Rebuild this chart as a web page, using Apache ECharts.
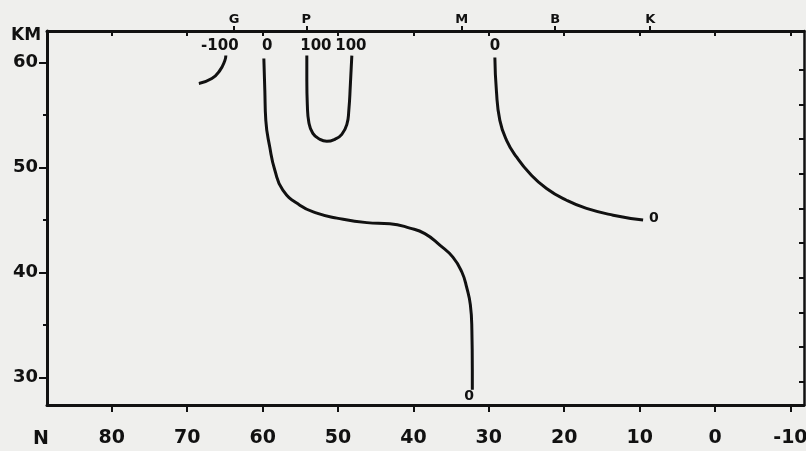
<!DOCTYPE html>
<html>
<head>
<meta charset="utf-8">
<script src="https://cdn.jsdelivr.net/npm/echarts@6/dist/echarts.min.js"></script>
<style>
html,body{margin:0;padding:0;background:#efefed;}
#c{width:806px;height:451px;}
</style>
</head>
<body>
<div id="c"></div>
<script>
// Latitude axis (reversed), altitude axis (km)
var xTickValues = [80, 70, 60, 50, 40, 30, 20, 10, 0, -10];
var yTickValues = [30, 40, 50, 60];
var yMinorTicks = [35, 45, 55];
var rightTicks = [29.6, 32.9, 36.2, 39.5, 42.8, 46.1, 49.4, 52.7, 56.0, 59.3];
var stationNames = ['G', 'P', 'M', 'B', 'K'];
var stationLats = [63.8, 54.2, 33.6, 21.2, 8.6];

// Contour lines: [latitude, km]
var contourMinus100 = [[68.46, 58.01], [66.74, 58.48], [65.68, 59.24], [65.01, 60.19], [64.88, 60.66]];
var contourZeroLeft = [[59.84, 60.38], [59.71, 57.34], [59.58, 54.49], [59.05, 51.93], [58.38, 49.75],
  [57.32, 47.85], [55.07, 46.42], [52.81, 45.66], [50.16, 45.19], [46.18, 44.76], [43.13, 44.66],
  [40.48, 44.24], [38.49, 43.71], [36.50, 42.62], [34.77, 41.48], [33.58, 40.06], [32.92, 38.54],
  [32.45, 36.93], [32.25, 34.55], [32.19, 30.75], [32.19, 28.85]];
var contour100 = [[54.14, 60.66], [54.14, 58.29], [54.07, 55.92], [53.87, 54.30], [53.34, 53.26],
  [52.41, 52.69], [51.49, 52.50], [50.42, 52.69], [49.50, 53.16], [48.83, 54.11], [48.57, 55.44],
  [48.37, 57.82], [48.17, 60.66]];
var contourZeroRight = [[29.2, 60.47], [29.0, 57.34], [28.54, 54.49], [27.65, 52.59], [26.33, 51.01],
  [24.56, 49.43], [22.35, 48.01], [19.70, 46.89], [17.05, 46.11], [13.51, 45.47], [9.54, 45.0]];
// Contour labels: [latitude, km, text]
var contourLabels = [[65.68, 61.6, '-100'], [59.4, 61.6, '0'], [52.94, 61.6, '100'], [48.3, 61.6, '100'],
  [29.2, 61.6, '0']];
var endLabels = [[32.6, 28.2, '0'], [8.1, 45.2, '0']];

var XMIN = -11.8, XMAX = 88.6, YMIN = 27.4, YMAX = 63;
var INK = '#111111';
var FONT = 'DejaVu Sans';

function near(arr, v) {
  for (var i = 0; i < arr.length; i++) if (Math.abs(arr[i] - v) < 1e-6) return i;
  return -1;
}

function lineSeries(data) {
  return {
    type: 'line', data: data, smooth: 0.5, symbol: 'none', silent: true,
    lineStyle: { color: INK, width: 3 }, xAxisIndex: 0, yAxisIndex: 0
  };
}

function labelSeries(data, size) {
  return {
    type: 'scatter', data: data, symbolSize: 1, silent: true,
    itemStyle: { color: 'rgba(0,0,0,0)' },
    label: {
      show: true, position: 'inside', color: INK, textBorderWidth: 0, opacity: 1,
      fontFamily: FONT, fontWeight: 'bold', fontSize: size,
      formatter: function (p) { return p.value[2]; }
    }
  };
}

var chart = echarts.init(document.getElementById('c'), null, { renderer: 'canvas' });
chart.setOption({
  backgroundColor: '#efefed',
  animation: false,
  grid: { left: 47, right: 2, top: 31, bottom: 46, containLabel: false, outerBoundsMode: 'none' },
  xAxis: [
    {
      type: 'value', min: XMIN, max: XMAX, inverse: true, position: 'bottom',
      splitLine: { show: false },
      axisLine: { show: true, onZero: false, lineStyle: { color: INK, width: 3 } },
      axisTick: { show: true, customValues: xTickValues, length: 7, lineStyle: { color: INK, width: 2 } },
      axisLabel: {
        show: true, customValues: xTickValues, margin: 24, color: INK,
        fontFamily: FONT, fontWeight: 'bold', fontSize: 19,
        formatter: function (v) { return String(v); }
      }
    },
    {
      type: 'value', min: XMIN, max: XMAX, inverse: true, position: 'top',
      splitLine: { show: false },
      axisLine: { show: true, onZero: false, lineStyle: { color: INK, width: 3 } },
      axisTick: { show: true, inside: true, customValues: xTickValues, length: 5, lineStyle: { color: INK, width: 2 } },
      axisLabel: { show: false }
    },
    {
      type: 'value', min: XMIN, max: XMAX, inverse: true, position: 'top',
      splitLine: { show: false },
      axisLine: { show: false, onZero: false },
      axisTick: { show: true, customValues: stationLats, length: 5, lineStyle: { color: INK, width: 2 } },
      axisLabel: {
        show: true, customValues: stationLats, margin: 5, color: INK,
        fontFamily: FONT, fontWeight: 'bold', fontSize: 13,
        formatter: function (v) { var i = near(stationLats, v); return i >= 0 ? stationNames[i] : ''; }
      }
    }
  ],
  yAxis: [
    {
      type: 'value', min: YMIN, max: YMAX, position: 'left',
      splitLine: { show: false },
      axisLine: { show: true, onZero: false, lineStyle: { color: INK, width: 3 } },
      axisTick: { show: true, customValues: yTickValues, length: 8, lineStyle: { color: INK, width: 2 } },
      axisLabel: {
        show: true, customValues: yTickValues, margin: 9, color: INK,
        fontFamily: FONT, fontWeight: 'bold', fontSize: 18,
        formatter: function (v) { return String(v); }
      }
    },
    {
      type: 'value', min: YMIN, max: YMAX, position: 'left',
      splitLine: { show: false },
      axisLine: { show: false, onZero: false },
      axisTick: { show: true, customValues: yMinorTicks, length: 4, lineStyle: { color: INK, width: 2 } },
      axisLabel: { show: false }
    },
    {
      type: 'value', min: YMIN, max: YMAX, position: 'right',
      splitLine: { show: false },
      axisLine: { show: true, onZero: false, lineStyle: { color: INK, width: 2.5 } },
      axisTick: { show: true, inside: true, customValues: rightTicks, length: 5, lineStyle: { color: INK, width: 2 } },
      axisLabel: { show: false }
    }
  ],
  graphic: [
    { type: 'text', left: 11, top: 27, style: { text: 'KM', fontFamily: FONT, fontWeight: 'bold', fontSize: 17, fill: INK } },
    { type: 'text', left: 33, top: 430, style: { text: 'N', fontFamily: FONT, fontWeight: 'bold', fontSize: 19, fill: INK } }
  ],
  series: [
    lineSeries(contourMinus100),
    lineSeries(contourZeroLeft),
    lineSeries(contour100),
    lineSeries(contourZeroRight),
    labelSeries(contourLabels, 15),
    labelSeries(endLabels, 14)
  ]
});
</script>
</body>
</html>
